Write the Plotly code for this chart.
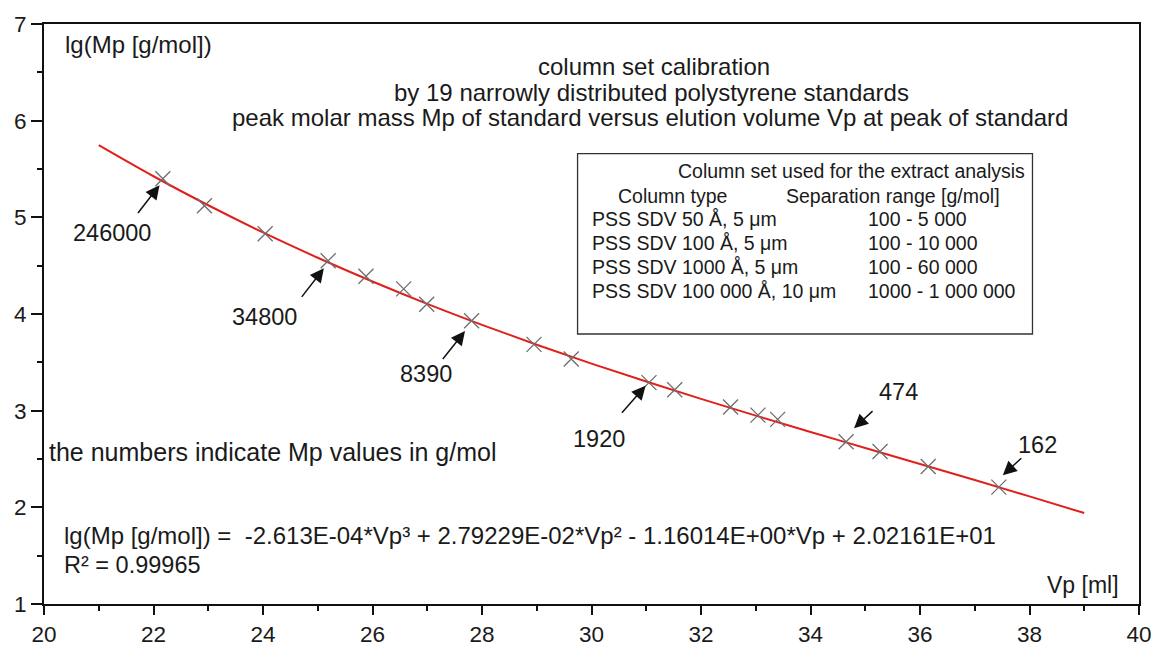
import plotly.graph_objects as go

# ---- data ----
vp_std = [22.17, 22.93, 24.04, 25.19, 25.88, 26.57, 26.99, 27.81, 28.95, 29.63,
          31.05, 31.52, 32.54, 33.04, 33.40, 34.65, 35.27, 36.15, 37.44]
lg_std = [5.40, 5.12, 4.83, 4.55, 4.39, 4.26, 4.10, 3.93, 3.686, 3.535,
          3.29, 3.216, 3.038, 2.954, 2.91, 2.678, 2.578, 2.423, 2.209]

vp_fit = [21, 22, 23, 24, 25, 26, 27, 28, 29, 30, 31, 32, 33, 34, 35, 36, 37, 38, 39]
lg_fit = [5.747, 5.425, 5.125, 4.844, 4.582, 4.336, 4.105, 3.888, 3.682, 3.487,
          3.301, 3.122, 2.949, 2.780, 2.614, 2.448, 2.282, 2.113, 1.941]

mp_labels = ["246000", "34800", "8390", "1920", "474", "162"]
mp_label_idx = [0, 3, 7, 10, 15, 18]

table_title = "Column set used for the extract analysis"
table_head = ["Column type", "Separation range [g/mol]"]
col_types = ["PSS SDV 50 Å, 5 μm", "PSS SDV 100 Å, 5 μm",
             "PSS SDV 1000 Å, 5 μm", "PSS SDV 100 000 Å, 10 μm"]
sep_ranges = ["100 - 5 000", "100 - 10 000", "100 - 60 000", "1000 - 1 000 000"]

equation = ("lg(Mp [g/mol]) =&nbsp; -2.613E-04*Vp³ + 2.79229E-02*Vp²"
            " - 1.16014E+00*Vp + 2.02161E+01")
r_squared = "R² = 0.99965"

# ---- layout geometry ----
W, H = 1164, 659
ML, MR, MT, MB = 44, 20, 22, 42
PW, PH = W - ML - MR, H - MT - MB
XR, YR = (20, 40), (1, 7)
PX_X = PW / (XR[1] - XR[0])
PX_Y = PH / (YR[1] - YR[0])
FONT = "Liberation Sans, Arial, sans-serif"
TXT = "#1a1a1a"


def P(px, py):
    return (px - ML) / PW, (H - MB - py) / PH


fig = go.Figure()
fig.add_trace(go.Scatter(x=vp_fit, y=lg_fit, mode="lines", line_shape="spline",
                         line=dict(color="#e0201c", width=2), hoverinfo="skip"))
fig.add_trace(go.Scatter(x=vp_std, y=lg_std, mode="markers",
                         marker=dict(symbol="x-thin-open", size=15, color="#6e6e6e",
                                     line=dict(color="#6e6e6e", width=1.3))))

ann = []


def text(px, py, s, size=24, xanchor="left"):
    x, y = P(px, py)
    ann.append(dict(x=x, y=y, xref="paper", yref="paper", text=s, showarrow=False,
                    xanchor=xanchor, yanchor="middle",
                    font=dict(family=FONT, size=size, color=TXT)))


# arrows (pixel offsets of tail and tip from the marker) and labels
tail_off = [(-26, 36), (-27.6, 37.7), (-30, 40), (-28.4, 31.7), (28, -32.4), (24, -30.6)]
tip_off = [(-3.3, 6.7), (-4.3, 7.7), (-6.6, 10.6), (-3.4, 3.3), (8, -14), (4, -12.3)]
label_off = [(-51, 54), (-64, 56), (-46, 53), (-50, 56), (52, -50), (39, -42)]
for k, i in enumerate(mp_label_idx):
    x0, y0 = vp_std[i], lg_std[i]
    (tx, ty), (hx, hy) = tail_off[k], tip_off[k]
    ann.append(dict(x=x0 + hx / PX_X, y=y0 - hy / PX_Y, xref="x", yref="y", text="",
                    showarrow=True, ax=tx - hx, ay=ty - hy, arrowhead=2,
                    arrowsize=1.85, arrowwidth=1.5, arrowcolor="#111", standoff=0))
    dx, dy = label_off[k]
    ann.append(dict(x=x0, y=y0, xref="x", yref="y", text=mp_labels[k],
                    showarrow=False, xshift=dx, yshift=-dy,
                    xanchor="center", yanchor="middle",
                    font=dict(family=FONT, size=23.5, color=TXT)))

text(63, 43, "lg(Mp [g/mol])")
text(657, 66, "column set calibration", xanchor="center")
text(654, 92, "by 19 narrowly distributed polystyrene standards", xanchor="center")
text(653, 118, "peak molar mass Mp of standard versus elution volume Vp at peak of standard",
     xanchor="center")
text(1126, 598, "Vp [ml]", size=23, xanchor="right")
text(47, 461, "the numbers indicate Mp values in g/mol", size=25)
text(62, 547, equation, size=24)
text(62, 577, r_squared, size=23.5)

# table
text(1031, 173, table_title, size=19.5, xanchor="right")
text(619, 198, table_head[0], size=19.5)
text(787, 198, table_head[1], size=19.5)
for r, (a, b) in enumerate(zip(col_types, sep_ranges)):
    yy = 222 + r * 24.7
    text(592, yy, a, size=19.5)
    text(870, yy, b, size=19.5)

bx0, by0 = P(580, 340)
bx1, by1 = P(1037, 155)

fig.update_layout(
    width=W, height=H, margin=dict(l=ML, r=MR, t=MT, b=MB),
    paper_bgcolor="white", plot_bgcolor="white", showlegend=False,
    annotations=ann,
    shapes=[dict(type="rect", xref="paper", yref="paper", x0=bx0, y0=by0,
                 x1=bx1, y1=by1, line=dict(color="#333", width=1.3))],
    xaxis=dict(range=list(XR), tickvals=[20, 22, 24, 26, 28, 30, 32, 34, 36, 38, 40],
               ticks="outside", ticklen=9, tickwidth=2, tickcolor="#111",
               showline=True, linecolor="#111", linewidth=2, mirror=True,
               showgrid=False, zeroline=False,
               minor=dict(dtick=1, ticks="outside", ticklen=5, tickwidth=2,
                          tickcolor="#111"),
               tickfont=dict(family=FONT, size=22.5, color=TXT)),
    yaxis=dict(range=list(YR), dtick=1, ticks="outside", ticklen=11, tickwidth=2,
               tickcolor="#111", showline=True, linecolor="#111", linewidth=2,
               mirror=True, showgrid=False, zeroline=False,
               minor=dict(dtick=0.5, ticks="outside", ticklen=5, tickwidth=2,
                          tickcolor="#111"),
               tickfont=dict(family=FONT, size=22.5, color=TXT)),
)

fig.write_html("out.html")
